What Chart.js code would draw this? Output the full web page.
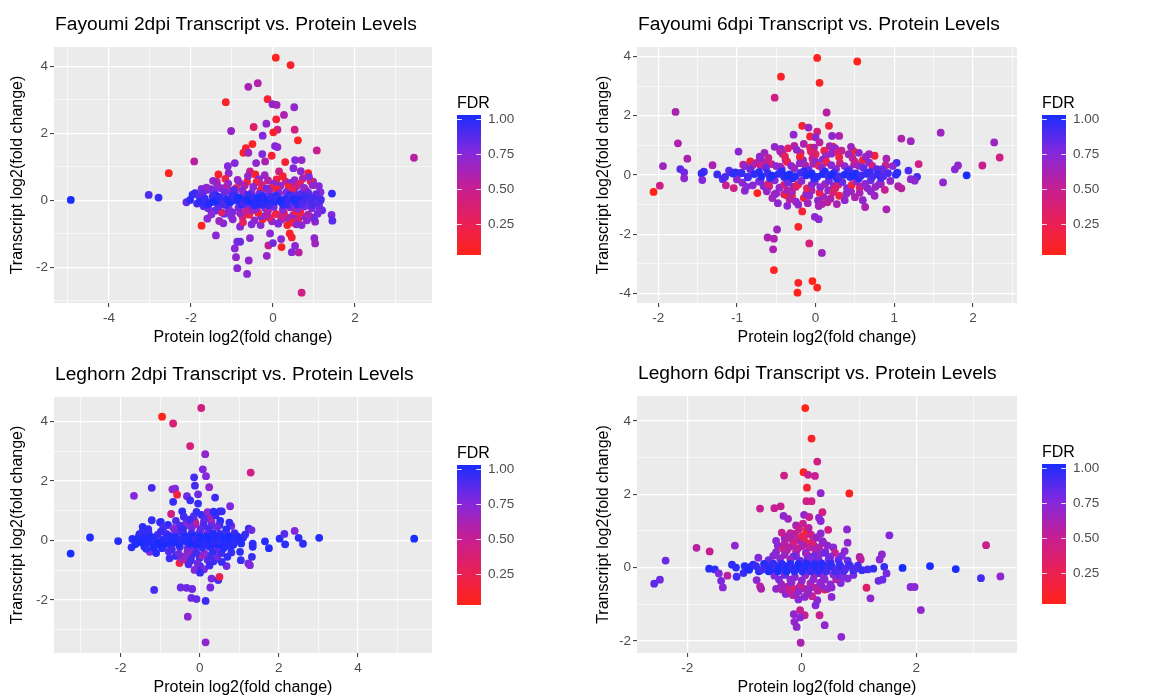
<!DOCTYPE html>
<html lang="en">
<head>
<meta charset="UTF-8">
<title>Transcript vs. Protein Levels</title>
<script src="https://cdn.jsdelivr.net/npm/chart.js"></script>
<style>
  html, body { margin: 0; padding: 0; background: #fff; }
  #wrap { position: relative; width: 1155px; height: 698px; overflow: hidden; }
  #wrap canvas { position: absolute; }
</style>
</head>
<body>
<div id="wrap">
  <canvas id="fay2" width="577" height="349" style="left:0;top:0;width:577px;height:349px"></canvas>
  <canvas id="fay6" width="577" height="349" style="left:578px;top:0;width:577px;height:349px"></canvas>
  <canvas id="leg2" width="577" height="349" style="left:0;top:349px;width:577px;height:349px"></canvas>
  <canvas id="leg6" width="577" height="349" style="left:578px;top:349px;width:577px;height:349px"></canvas>
</div>
<script>
// each point: [protein log2 fc, transcript log2 fc, FDR]
const fay2Points = [
  [-4.93,0.01,1.0],[-3.03,0.16,0.88],[-2.79,0.08,0.93],[-2.54,0.81,0.08],[-1.92,1.16,0.55],[-1.15,2.93,0.1],
  [-1.02,2.07,0.68],[-0.93,1.11,0.75],[-0.6,3.39,0.62],[-0.37,3.5,0.58],[0.07,4.26,0.08],[0.43,4.04,0.12],
  [-0.13,3.02,0.15],[-0.01,2.87,0.7],[0.09,2.85,0.65],[0.52,2.78,0.7],[0.27,2.55,0.6],[0.08,2.42,0.15],
  [-0.16,2.29,0.7],[-0.47,2.19,0.35],[0.11,2.11,0.45],[0.53,2.11,0.45],[0.01,2.03,0.12],[-0.25,1.93,0.75],
  [0.61,1.79,0.08],[0.05,1.62,0.75],[0.11,1.59,0.72],[-0.5,1.68,0.1],[-0.66,1.56,0.15],[-0.72,1.42,0.12],
  [-0.6,1.42,0.65],[-0.26,1.38,0.75],[-0.03,1.33,0.15],[-0.19,1.16,0.6],[-0.41,1.11,0.7],[1.07,1.49,0.5],
  [0.54,1.2,0.75],[0.7,1.2,0.7],[0.3,1.14,0.15],[3.44,1.27,0.55],[-1.1,1.02,0.75],[-1.08,0.81,0.7],
  [-1.33,0.77,0.12],[-0.56,0.86,0.5],[-0.43,0.77,0.12],[0.86,0.81,0.1],[0.15,0.86,0.45],[0.68,0.87,0.7],
  [0.5,0.96,0.75],[0.98,0.56,0.72],[-1.37,0.56,0.5],[-1.96,0.17,0.95],[-1.9,0.21,0.92],[-2.11,-0.06,0.82],
  [-2.02,0.01,0.95],[-1.74,0.34,0.75],[-1.62,0.31,0.72],[1.44,0.2,0.95],[1.16,0.24,0.75],[1.15,-0.02,0.95],
  [1.43,-0.44,0.75],[1.45,-0.61,0.85],[-1.74,-0.76,0.08],[-1.39,-1.05,0.72],[-0.87,-1.24,0.78],[-0.8,-1.24,0.8],
  [-0.93,-1.44,0.72],[-0.9,-1.7,0.7],[-0.87,-2.03,0.72],[-0.63,-2.2,0.72],[-0.59,-1.8,0.7],[-0.56,-1.13,0.72],
  [-0.15,-1.66,0.68],[-0.11,-1.35,0.5],[0.2,-1.16,0.72],[0.21,-1.4,0.1],[0.41,-0.99,0.12],[0.46,-1.11,0.15],
  [0.54,-1.36,0.72],[0.46,-1.55,0.75],[0.63,-1.56,0.55],[0.7,-2.76,0.45],[1.01,-1.13,0.7],[1.03,-1.29,0.65],
  [-0.07,-0.99,0.72],[0,-1.28,0.78],[-0.3,-0.74,0.72],[-0.8,-0.79,0.75],[-1.21,-0.69,0.75],[-1.6,-0.55,0.72],
  [0.35,-0.74,0.12],[0.5,-0.67,0.1],[0.7,-0.74,0.72],[0.9,-0.49,0.5],
  [-1.46,0.58,0.7],[-1.31,-0.62,0.65],[-1.16,0.64,0.2],[-0.98,-0.57,0.72],[-0.86,0.61,0.68],[-0.73,-0.66,0.3],
  [-0.63,0.55,0.1],[-0.45,-0.6,0.68],[-0.34,0.63,0.72],[-0.25,-0.56,0.12],[-0.12,0.59,0.55],[-0.02,-0.63,0.7],
  [0.09,0.62,0.2],[0.2,-0.58,0.66],[0.31,0.56,0.5],[0.41,-0.64,0.1],[0.53,0.6,0.7],[0.62,-0.55,0.35],
  [0.73,0.65,0.62],[0.83,-0.6,0.7],[0.92,0.57,0.15],[1.03,-0.64,0.7],
  [-1.85,-0.1,0.9],[-1.8,0.12,0.85],[-1.69,-0.18,0.88],[-1.52,0.33,0.8],[-1.41,-0.31,0.82],[-1.27,0.36,0.75],
  [-1.19,-0.4,0.8],[-1.09,0.5,0.72],[-0.99,-0.36,0.78],[-0.82,0.52,0.7],[-0.74,-0.5,0.4],[-0.61,0.72,0.68],
  [-0.52,-0.72,0.75],[-0.4,0.54,0.2],[-0.29,-0.48,0.72],[-0.2,0.75,0.65],[-0.08,-0.52,0.35],[0.02,0.5,0.7],
  [0.13,-0.7,0.75],[0.24,0.72,0.15],[0.34,-0.52,0.6],[0.44,0.52,0.72],[0.57,-0.72,0.7],[0.66,0.5,0.3],
  [0.79,-0.5,0.72],[0.88,0.7,0.75],[1.0,-0.52,0.8],[1.12,0.42,0.75],[1.2,-0.3,0.82],
  [-1.62,0.38,0.7],[-1.5,-0.42,0.72],[-1.36,0.45,0.66],[-1.25,-0.36,0.35],[-1.13,0.41,0.6],[-1.02,-0.47,0.74],
  [-0.9,0.36,0.28],[-0.8,-0.39,0.68],[-0.69,0.44,0.55],[-0.58,-0.43,0.2],[-0.48,0.4,0.72],[-0.36,-0.37,0.15],
  [-0.27,0.46,0.4],[-0.16,-0.44,0.62],[-0.04,0.37,0.25],[0.07,-0.41,0.18],[0.18,0.43,0.7],[0.27,-0.38,0.3],
  [0.38,0.39,0.12],[0.49,-0.45,0.65],[0.58,0.42,0.45],[0.67,-0.36,0.22],[0.76,0.37,0.75],[0.86,-0.43,0.6],
  [0.97,0.45,0.7],[1.09,-0.4,0.78],
  [-0.7,0.2,0.35],[-0.3,0.3,0.25],[0.1,0.32,0.15],[0.55,-0.33,0.2],[-0.5,-0.3,0.6],[0.8,0.3,0.6],
  [-1.05,0.27,0.7],[0.2,-0.47,0.45],[-0.15,0.35,0.8],[0.65,-0.15,0.75],
  [-1.71,0.21,0.82],[-1.58,-0.24,0.8],[-1.44,0.27,0.78],[-1.33,-0.19,0.84],[-1.18,0.23,0.79],[-1.07,-0.27,0.76],
  [-0.93,0.18,0.83],[-0.84,-0.22,0.77],[-0.75,0.29,0.72],[-0.62,-0.2,0.8],[-0.52,0.22,0.74],[-0.41,-0.26,0.7],
  [-0.33,0.19,0.81],[-0.19,-0.23,0.75],[-0.09,0.26,0.68],[0.02,-0.2,0.79],[0.15,0.21,0.73],[0.24,-0.28,0.7],
  [0.33,0.24,0.77],[0.42,-0.21,0.74],[0.51,0.27,0.8],[0.6,-0.25,0.72],[0.69,0.2,0.82],[0.77,-0.19,0.78],
  [0.86,0.23,0.81],[0.95,-0.24,0.76],[1.05,0.18,0.83],[1.13,-0.2,0.79],
  [-0.95,0.31,0.85],[-0.58,0.12,0.95],[-0.27,-0.14,0.92],[0.07,0.14,0.88],[0.36,-0.13,0.9],[0.58,0.15,0.86],
  [-0.45,-0.15,0.93],[-1.4,0.15,0.93],[0.88,0.12,0.85],[-0.12,-0.32,0.6],[0.47,0.33,0.3],[-0.66,-0.32,0.5],
  [-1.6,-0.13,0.95],[-1.34,0.11,0.97],[-1.16,-0.14,0.93],[-0.98,0.14,0.95],[-0.76,-0.13,0.98],[-0.6,0.16,0.92],
  [-0.42,-0.12,0.97],[-0.24,0.13,0.95],[-0.1,-0.15,0.9],[0.08,0.12,0.96],[0.25,-0.14,0.93],[0.42,0.15,0.95],
  [0.6,-0.13,0.92],[0.77,0.12,0.9],[0.95,-0.14,0.88],
  [-1.78,-0.04,0.95],[-1.66,0.05,0.92],[-1.55,-0.08,0.97],[-1.47,0.12,0.9],[-1.38,-0.02,0.98],[-1.29,0.07,0.93],
  [-1.21,-0.11,0.88],[-1.12,0.03,0.96],[-1.04,-0.06,0.99],[-0.97,0.1,0.91],[-0.88,-0.01,0.97],[-0.79,0.06,0.94],
  [-0.71,-0.09,0.9],[-0.64,0.02,0.98],[-0.55,-0.03,1.0],[-0.47,0.08,0.93],[-0.38,-0.05,0.96],[-0.31,0.04,0.89],
  [-0.22,-0.1,0.95],[-0.14,0.01,0.99],[-0.05,0.09,0.92],[0.04,-0.04,0.97],[0.12,0.05,0.9],[0.21,-0.07,0.94],
  [0.29,0.03,0.98],[0.37,-0.02,0.91],[0.46,0.11,0.87],[0.55,-0.06,0.93],[0.63,0.02,0.96],[0.72,-0.1,0.88],
  [0.81,0.06,0.92],[0.9,-0.03,0.86],[0.99,0.04,0.9],[1.08,-0.08,0.85],[1.17,0.02,0.88],
  [-0.85,0.08,1.0],[-0.35,0.06,0.99],[0.17,-0.02,1.0],[0.5,0.03,0.98],[-1.45,-0.05,1.0]
];
const fay6Points = [
  [-2.06,-0.57,0.05],[-1.98,-0.36,0.45],[-1.94,0.3,0.65],[-1.78,2.13,0.6],[-1.75,1.07,0.6],[-1.72,0.2,0.85],
  [-1.67,0.09,0.8],[-1.67,-0.11,0.7],[-1.63,0.55,0.6],[-1.45,0.05,0.95],[-1.42,0.11,0.92],[-1.44,-0.17,0.75],
  [-1.31,0.33,0.6],[-1.18,-0.14,0.85],[-1.14,-0.35,0.5],[-1.08,0.09,0.9],[-1.04,-0.44,0.45],[-1.02,0.09,0.92],
  [-0.98,0.79,0.72],[-0.94,0.06,0.95],[-0.93,-0.26,0.72],[-0.9,-0.53,0.7],[-0.86,-0.06,0.93],[-0.83,0.46,0.1],
  [-0.8,0.33,0.5],[-0.74,-0.61,0.08],[-0.71,0.62,0.7],[-0.63,0.43,0.55],[-0.61,-2.11,0.6],[-0.53,-2.15,0.6],
  [-0.54,-2.51,0.6],[-0.53,-3.21,0.08],[-0.52,2.61,0.45],[-0.44,3.32,0.1],[-0.59,-0.38,0.5],[-0.52,-0.65,0.68],
  [-0.49,-1.84,0.65],[-0.4,-0.65,0.5],[-0.36,-1.04,0.72],[-0.37,-0.68,0.1],[-0.44,0.88,0.7],[-0.28,1.36,0.7],
  [-0.22,-1.75,0.1],[-0.23,-3.97,0.05],[-0.22,-3.64,0.1],[-0.17,1.66,0.15],[-0.17,-1.23,0.15],[-0.08,-2.31,0.4],
  [-0.09,1.6,0.68],[-0.07,1.3,0.15],[-0.07,0.92,0.2],[-0.04,-3.58,0.05],[0.02,-3.8,0.08],[0.02,3.95,0.08],
  [0.05,3.11,0.1],[-0.01,-1.41,0.7],[0.04,-1.49,0.7],[0.08,-2.63,0.65],[0.02,1.46,0.4],[0,1.27,0.72],
  [0.14,2.11,0.55],[0.17,1.66,0.15],[0.21,1.32,0.7],[0.3,1.32,0.6],[0.22,0.96,0.15],[0.53,3.83,0.03],
  [0.48,0.81,0.1],[0.56,-0.43,0.1],[0.63,-1.08,0.6],[0.75,0.65,0.15],[0.89,0.32,0.45],[0.83,-0.3,0.5],
  [0.9,-1.16,0.6],[0.66,-0.44,0.7],[1.03,0.41,0.9],[1.04,0.08,0.95],[1.02,0.01,0.95],[1.09,1.23,0.6],
  [1.21,1.14,0.65],[1.18,0.15,0.88],[1.21,-0.14,0.72],[1.29,-0.06,0.9],[1.26,-0.19,0.7],[1.31,0.37,0.45],
  [1.05,-0.38,0.6],[1.09,-0.45,0.55],[1.59,1.43,0.65],[1.62,-0.25,0.7],[1.77,0.19,0.72],[1.81,0.32,0.7],
  [1.92,-0.01,1.0],[2.12,0.32,0.5],[2.27,1.1,0.65],[2.34,0.59,0.45],
  [-0.65,0.75,0.65],[-0.52,0.95,0.7],[-0.38,0.5,0.6],[-0.27,0.98,0.55],[-0.16,0.5,0.68],[-0.02,0.92,0.6],
  [0.09,0.52,0.7],[0.18,0.97,0.62],[0.33,0.82,0.5],[0.45,0.95,0.65],[0.55,0.75,0.7],[0.68,0.7,0.6],
  [-0.62,-0.55,0.68],[-0.48,-0.95,0.7],[-0.36,-0.52,0.62],[-0.22,-1.0,0.68],[-0.05,-0.52,0.6],[0.04,-1.05,0.65],
  [0.16,-0.52,0.7],[0.27,-0.98,0.6],[0.45,-0.55,0.66],[0.6,-0.85,0.7],[0.75,-0.7,0.65],
  [-0.7,0.55,0.7],[-0.55,-0.78,0.65],[-0.42,0.72,0.6],[-0.3,-0.72,0.15],[-0.19,0.75,0.5],[-0.08,-0.7,0.7],
  [0.0,0.7,0.3],[0.1,-0.74,0.65],[0.2,0.72,0.7],[0.3,-0.7,0.2],[0.42,0.7,0.65],[0.5,-0.75,0.6],
  [0.6,0.5,0.15],[0.7,-0.55,0.7],[-0.25,-0.9,0.7],[0.15,-0.92,0.5],[-0.35,0.9,0.35],[0.25,0.9,0.7],
  [-0.15,1.05,0.6],[0.05,1.1,0.55],
  [-0.45,0.8,0.6],[-0.33,-0.82,0.55],[-0.24,0.85,0.7],[-0.15,-0.78,0.2],[-0.06,0.79,0.35],[0.03,-0.86,0.68],
  [0.11,0.82,0.25],[0.19,-0.8,0.6],[0.28,0.77,0.45],[0.37,-0.85,0.7],[-0.1,-0.95,0.65],[0.08,-0.98,0.6],
  [-0.6,0.58,0.5],[-0.5,-0.62,0.68],[-0.39,0.63,0.3],[-0.3,-0.57,0.6],[-0.2,0.61,0.15],[-0.12,-0.65,0.7],
  [-0.04,0.56,0.45],[0.05,-0.6,0.25],[0.13,0.64,0.65],[0.22,-0.58,0.4],[0.3,0.6,0.2],[0.39,-0.63,0.7],
  [0.47,0.57,0.55],[0.56,-0.6,0.62],[0.64,0.62,0.68],
  [-1.1,0.15,0.85],[-1.0,-0.15,0.7],[-0.92,0.35,0.5],[-0.88,-0.4,0.72],[0.95,-0.2,0.7],[0.98,0.3,0.72],
  [0.88,-0.5,0.5],[0.9,0.55,0.6],
  [-0.75,0.41,0.6],[-0.66,-0.38,0.72],[-0.56,0.37,0.45],[-0.46,-0.43,0.7],[-0.36,0.44,0.25],[-0.28,-0.39,0.6],
  [-0.2,0.4,0.68],[-0.11,-0.45,0.3],[-0.03,0.38,0.55],[0.06,-0.41,0.72],[0.14,0.43,0.2],[0.23,-0.37,0.66],
  [0.31,0.4,0.4],[0.4,-0.44,0.7],[0.49,0.36,0.62],[0.57,-0.39,0.5],[0.68,0.42,0.72],[0.76,-0.4,0.65],
  [-0.45,0.28,0.55],[-0.25,-0.4,0.45],[0.0,0.45,0.7],[0.25,-0.45,0.35],[0.5,0.45,0.5],[-0.7,-0.2,0.8],
  [0.85,0.2,0.8],
  [-0.9,0.3,0.7],[-0.8,-0.35,0.72],[-0.7,0.32,0.5],[-0.6,-0.3,0.35],[-0.5,0.3,0.72],[-0.4,-0.33,0.45],
  [-0.31,0.31,0.7],[-0.22,-0.31,0.25],[-0.13,0.32,0.6],[-0.05,-0.33,0.7],[0.04,0.31,0.3],[0.12,-0.31,0.65],
  [0.2,0.33,0.72],[0.29,-0.32,0.4],[0.37,0.3,0.7],[0.46,-0.33,0.2],[0.55,0.31,0.68],[0.63,-0.3,0.72],
  [0.72,0.31,0.45],[0.81,-0.31,0.7],
  [-0.83,0.19,0.8],[-0.72,-0.22,0.76],[-0.63,0.24,0.82],[-0.52,-0.18,0.74],[-0.43,0.2,0.7],[-0.35,-0.25,0.79],
  [-0.27,0.23,0.66],[-0.18,-0.2,0.72],[-0.09,0.18,0.8],[-0.01,-0.23,0.75],[0.08,0.25,0.68],[0.17,-0.19,0.78],
  [0.26,0.21,0.72],[0.34,-0.24,0.8],[0.43,0.19,0.76],[0.52,-0.21,0.7],[0.61,0.24,0.82],[0.7,-0.18,0.79],
  [0.78,0.2,0.84],
  [-1.25,0.02,0.92],[-1.15,-0.06,0.9],[-1.05,0.05,0.95],[-0.72,0.1,0.97],[-0.58,-0.1,0.95],[-0.43,0.11,0.98],
  [-0.29,-0.11,0.95],[-0.15,0.12,0.97],[-0.02,-0.12,0.93],[0.12,0.11,0.97],[0.27,-0.12,0.95],[0.41,0.12,0.93],
  [0.55,-0.11,0.96],[0.69,0.1,0.93],[0.83,-0.1,0.9],[0.92,0.06,0.88],
  [-0.78,0.03,0.95],[-0.69,-0.05,0.98],[-0.61,0.06,0.92],[-0.55,-0.02,0.99],[-0.47,0.04,0.96],[-0.4,-0.07,0.93],
  [-0.33,0.02,1.0],[-0.26,-0.04,0.97],[-0.19,0.07,0.9],[-0.12,-0.01,0.98],[-0.05,0.05,0.94],[0.02,-0.06,0.96],
  [0.09,0.03,0.99],[0.16,-0.03,0.92],[0.23,0.06,0.95],[0.3,-0.05,0.9],[0.37,0.01,0.97],[0.44,-0.07,0.93],
  [0.51,0.05,0.96],[0.58,-0.02,0.91],[0.65,0.04,0.94],[0.72,-0.06,0.88],[0.79,0.02,0.92],[0.86,-0.04,0.87],
  [-0.86,-0.08,0.9],[-0.95,0.07,0.93],[-0.36,-0.02,1.0],[0.2,0.0,1.0],[-0.05,0.01,1.0],[0.47,-0.01,0.99]
];
const leg2Points = [
  [-3.26,-0.44,1.0],[-2.77,0.1,0.97],[-2.06,-0.02,0.97],[-1.72,-0.23,0.95],[-1.66,1.5,0.75],[-1.53,0.15,0.97],
  [-1.44,0.46,0.95],[-1.34,-0.08,0.97],[-1.26,-0.38,0.75],[-1.21,1.77,0.9],[-1.21,0.68,0.93],[-1.15,-1.66,0.9],
  [-1.0,0.61,0.95],[-0.95,4.16,0.05],[-0.67,3.93,0.4],[-0.69,1.72,0.7],[-0.62,1.74,0.75],[-0.57,1.54,0.2],
  [-0.72,0.89,0.45],[-0.67,1.3,0.93],[-0.44,0.98,0.95],[-0.51,-0.76,0.2],[-0.35,-0.65,0.25],[-0.48,-1.58,0.8],
  [-0.33,-1.59,0.8],[-0.19,-1.63,0.8],[-0.21,-1.93,0.8],[-0.08,-1.97,0.82],[0.15,-2.03,0.92],[-0.3,-2.56,0.7],
  [0.15,-3.42,0.7],[-0.24,3.17,0.4],[0.04,4.45,0.45],[0.14,2.9,0.7],[0.08,2.39,0.75],[0.16,2.16,0.75],
  [-0.14,2.12,0.9],[-0.12,1.84,0.9],[0.24,1.79,0.7],[-0.32,1.49,0.8],[-0.24,1.35,0.92],[-0.04,1.55,0.8],
  [-0.04,1.24,0.93],[0.39,1.44,0.92],[1.29,2.28,0.45],[0.77,1.15,0.75],[0.51,0.98,0.95],[0.56,0.98,0.93],
  [0.8,0.49,0.78],[1.24,0.4,0.93],[1.31,0.35,0.8],[1.1,0.1,0.95],[1.02,-0.38,0.95],[1.04,-0.66,0.93],
  [1.23,-0.77,0.78],[1.27,-0.83,0.75],[1.32,-0.55,0.93],[1.34,-0.21,0.95],[1.34,-0.11,0.95],[1.65,-0.03,0.97],
  [1.75,-0.26,0.97],[2.02,0.06,0.97],[2.14,0.22,0.85],[2.16,-0.13,0.95],[2.4,0.32,0.75],[2.5,0.09,0.95],
  [2.61,-0.11,0.95],[3.02,0.09,0.97],[5.42,0.06,1.0],[0.01,-0.86,0.93],[0.11,-0.97,0.78],[-0.13,-0.99,0.75],
  [0.01,-1.08,0.93],[0.3,-1.28,0.78],[0.47,-1.33,0.9],[0.5,-1.22,0.25],[0.27,-1.58,0.78],[0.35,-0.7,0.93],
  [0.68,-0.86,0.78],[0.56,-0.72,0.93],
  [-0.98,0.62,0.95],[-0.76,-0.6,0.92],[-0.6,0.66,0.88],[-0.45,-0.63,0.55],[-0.34,0.58,0.8],[-0.22,-0.66,0.9],
  [-0.12,0.64,0.6],[0.0,-0.58,0.93],[0.1,0.6,0.78],[0.2,-0.65,0.86],[0.3,0.62,0.65],[0.41,-0.61,0.9],
  [0.52,0.66,0.95],[-0.4,0.8,0.9],[-0.15,0.82,0.85],[0.05,0.86,0.95],[0.22,0.79,0.6],[0.4,0.84,0.92],
  [-0.28,-0.8,0.88],[-0.05,-0.77,0.8],[0.25,-0.84,0.92],[0.2,0.95,0.7],[-0.08,0.96,0.93],[0.35,0.97,0.95],
  [-0.5,0.5,0.88],[-0.3,0.52,0.75],[-0.1,0.55,0.55],[0.1,0.48,0.9],[0.3,0.5,0.8],[0.5,0.52,0.93],
  [-0.6,-0.52,0.93],[-0.4,-0.55,0.7],[-0.2,-0.5,0.88],[0.05,-0.5,0.6],[0.25,-0.52,0.9],[0.45,-0.55,0.8],
  [0.7,-0.55,0.95],[-0.8,0.52,0.95],[0.75,0.6,0.93],[-0.25,0.7,0.92],[0.12,0.72,0.85],[-0.55,0.3,0.88],
  [0.4,-0.3,0.75],[-0.15,-0.3,0.6],
  [-1.3,0.38,0.93],[-1.1,-0.42,0.96],[-0.92,0.44,0.9],[-0.78,-0.37,0.85],[-0.66,0.41,0.75],[-0.53,-0.45,0.8],
  [-0.42,0.36,0.92],[-0.31,-0.39,0.7],[-0.2,0.43,0.78],[-0.09,-0.41,0.9],[0.02,0.38,0.83],[0.12,-0.44,0.74],
  [0.22,0.4,0.88],[0.33,-0.36,0.95],[0.44,0.45,0.8],[0.55,-0.42,0.9],[0.67,0.37,0.96],[0.8,-0.4,0.93],
  [-1.52,0.21,0.95],[-1.4,-0.2,0.97],[-1.29,0.24,0.93],[-1.17,-0.23,0.99],[-1.06,0.19,0.9],[-0.95,-0.26,0.96],
  [-0.84,0.22,0.88],[-0.72,-0.19,0.94],[-0.61,0.25,0.8],[-0.5,-0.22,0.9],[-0.4,0.2,0.85],[-0.3,-0.25,0.78],
  [-0.21,0.23,0.92],[-0.12,-0.18,0.82],[-0.03,0.21,0.88],[0.06,-0.24,0.95],[0.15,0.19,0.8],[0.24,-0.21,0.9],
  [0.33,0.24,0.96],[0.42,-0.19,0.86],[0.51,0.22,0.93],[0.6,-0.26,0.97],[0.69,0.2,0.9],[0.78,-0.22,0.95],
  [0.88,0.25,0.92],
  [-1.7,0.05,0.97],[-1.62,-0.12,0.99],[-1.45,0.28,0.93],[-1.35,-0.28,0.95],[-1.2,0.1,1.0],[-1.08,-0.15,0.98],
  [-0.98,0.3,0.93],[-0.88,-0.12,1.0],[-0.78,0.16,0.97],[-0.7,-0.3,0.9],[-0.6,0.1,1.0],[-0.52,-0.13,0.98],
  [-0.44,0.28,0.92],[-0.35,0.12,1.0],[-0.26,-0.12,0.97],[-0.17,0.13,1.0],[-0.08,-0.14,0.98],[0.01,0.12,1.0],
  [0.1,-0.13,0.97],[0.19,0.13,0.99],[0.28,-0.14,1.0],[0.38,0.14,0.97],[0.47,-0.12,1.0],[0.57,0.12,0.98],
  [0.66,-0.14,0.96],[0.75,0.12,1.0],[0.85,-0.14,0.97],[0.95,0.14,0.95],[1.05,-0.1,0.97],[1.15,0.2,0.93],
  [-1.58,0.04,0.98],[-1.47,-0.06,1.0],[-1.36,0.08,0.97],[-1.25,-0.03,0.99],[-1.14,0.05,0.96],[-1.03,-0.08,1.0],
  [-0.93,0.02,0.98],[-0.83,0.09,0.95],[-0.74,-0.04,0.99],[-0.65,0.06,0.97],[-0.56,-0.07,1.0],[-0.47,0.03,0.94],
  [-0.38,-0.02,0.98],[-0.29,0.07,0.96],[-0.2,-0.05,1.0],[-0.11,0.04,0.93],[-0.02,-0.03,0.97],[0.07,0.06,0.99],
  [0.16,-0.08,0.95],[0.25,0.02,1.0],[0.34,-0.04,0.96],[0.43,0.07,0.98],[0.52,-0.02,0.94],[0.61,0.04,0.99],
  [0.7,-0.06,0.97],[0.79,0.03,1.0],[0.88,-0.05,0.95],[0.98,0.06,0.98]
];
const leg6Points = [
  [-2.58,-0.44,0.85],[-2.48,-0.33,0.8],[-2.38,0.19,0.8],[-1.84,0.54,0.55],[-1.61,0.44,0.5],[-1.62,-0.03,0.97],
  [-1.52,-0.05,0.95],[-1.45,-0.16,0.75],[-1.41,-0.36,0.78],[-1.38,-0.54,0.72],[-1.3,-0.22,0.55],[-1.22,0.08,0.95],
  [-1.17,0.6,0.7],[-1.15,0,0.95],[-1.14,-0.25,0.9],[-1.02,-0.15,0.93],[-0.9,0.02,0.95],[-0.79,-0.34,0.72],
  [-0.76,0.27,0.75],[-0.73,1.61,0.5],[-0.73,-0.51,0.55],[-0.71,-0.58,0.6],[-0.48,1.62,0.5],[-0.37,1.67,0.5],
  [-0.31,2.51,0.45],[-0.32,1.41,0.7],[-0.24,1.33,0.65],[-0.2,0.94,0.5],[-0.45,0.73,0.72],[-0.28,-0.69,0.72],
  [-0.16,-0.75,0.5],[-0.06,-0.87,0.75],[-0.03,-1.16,0.5],[-0.14,-1.27,0.7],[-0.13,-1.48,0.68],[-0.09,-1.62,0.7],
  [-0.02,-2.05,0.6],[0.05,-1.3,0.5],[-0.03,-1.36,0.72],[0.06,4.35,0.03],[0.17,3.52,0.1],[0.03,2.6,0.05],
  [0.11,2.53,0.5],[0.23,2.5,0.5],[0.27,2.89,0.45],[0.09,2.18,0.15],[0.08,1.81,0.45],[0.17,1.81,0.45],
  [0.33,2.03,0.7],[0.04,1.44,0.7],[0.13,1.38,0.5],[0.3,1.36,0.72],[0.36,1.51,0.45],[0.33,1.27,0.72],
  [0.33,0.93,0.72],[0.46,1.03,0.45],[0.83,2.02,0.1],[0.79,1.04,0.72],[0.8,0.68,0.7],[0.18,0.67,0.05],
  [0.38,0.67,0.45],[0.4,-0.6,0.15],[0.27,-0.89,0.72],[0.24,-1.03,0.75],[0.31,-1.3,0.5],[0.4,-1.57,0.7],
  [0.52,-0.8,0.72],[0.52,-0.54,0.72],[0.69,-1.89,0.7],[1.01,0.29,0.55],[1.03,0.22,0.55],[1.13,-0.55,0.35],
  [1.2,-0.84,0.7],[1.4,0.36,0.7],[1.36,0.22,0.72],[1.53,0.88,0.75],[1.44,0.02,0.93],[1.48,-0.16,0.78],
  [1.41,-0.33,0.8],[1.34,-0.36,0.8],[1.76,-0.01,1.0],[1.9,-0.53,0.75],[1.97,-0.53,0.72],[2.08,-1.16,0.7],
  [2.24,0.04,1.0],[2.69,-0.04,1.0],[3.13,-0.29,0.9],[3.22,0.61,0.5],[3.47,-0.24,0.7],[1.05,-0.07,0.93],
  [1.15,-0.05,0.9],[1.25,-0.03,0.93],
  [-0.42,0.6,0.72],[-0.33,0.52,0.45],[-0.22,0.56,0.5],[-0.15,0.6,0.65],[-0.07,0.52,0.45],[0.0,0.58,0.55],
  [0.06,0.7,0.2],[0.13,0.55,0.5],[0.22,0.58,0.72],[0.3,0.55,0.6],[0.45,0.6,0.7],[0.55,0.55,0.72],
  [-0.18,0.78,0.6],[-0.05,0.75,0.65],[0.05,0.88,0.55],[0.2,0.8,0.55],[-0.3,0.8,0.7],[0.1,0.95,0.45],
  [-0.1,1.15,0.6],[0.02,1.2,0.5],
  [-0.45,-0.58,0.7],[-0.35,-0.6,0.6],[-0.25,-0.52,0.6],[-0.15,-0.58,0.2],[-0.05,-0.55,0.72],[0.05,-0.58,0.6],
  [0.15,-0.55,0.7],[0.25,-0.55,0.55],[0.35,-0.52,0.72],[0.45,-0.58,0.68],[-0.12,-0.75,0.6],[0.05,-0.8,0.7],
  [0.18,-0.78,0.5],[-0.28,-0.72,0.72],
  [-0.3,0.65,0.55],[-0.22,-0.62,0.5],[-0.14,0.7,0.45],[-0.06,-0.66,0.7],[0.02,0.62,0.6],[0.11,-0.7,0.68],
  [0.19,0.68,0.4],[0.28,-0.63,0.55],[0.36,0.72,0.7],[-0.25,0.85,0.6],[-0.12,0.92,0.55],[0.0,0.85,0.25],
  [0.08,1.02,0.1],[0.16,0.9,0.45],[0.26,0.82,0.68],[-0.35,0.95,0.5],[0.12,1.08,0.55],[-0.05,1.05,0.5],
  [-0.45,0.42,0.7],[-0.36,-0.45,0.65],[-0.26,0.47,0.55],[-0.18,-0.4,0.7],[-0.1,0.44,0.55],[-0.02,-0.48,0.5],
  [0.07,0.4,0.72],[0.15,-0.43,0.6],[0.24,0.46,0.6],[0.32,-0.41,0.7],[0.41,0.43,0.65],[0.5,-0.46,0.72],
  [0.58,0.4,0.5],[0.68,-0.42,0.75],[0.75,0.45,0.7],
  [-0.5,0.32,0.72],[-0.4,-0.32,0.75],[-0.3,0.35,0.65],[-0.2,-0.33,0.72],[-0.1,0.32,0.7],[0.0,-0.35,0.7],
  [0.1,0.33,0.6],[0.2,-0.32,0.72],[0.3,0.35,0.7],[0.4,-0.33,0.7],[0.5,0.3,0.72],[0.6,-0.32,0.6],
  [0.7,0.32,0.75],[0.8,-0.3,0.72],
  [0.1,0.2,0.85],[0.3,-0.15,0.88],[0.5,0.15,0.85],[-0.3,-0.2,0.85],[0.65,-0.2,0.85],[0.2,0.3,0.8],
  [-0.15,0.3,0.82],[0.4,0.4,0.8],
  [-0.58,0.2,0.8],[-0.48,-0.22,0.75],[-0.38,0.25,0.7],[-0.29,-0.18,0.78],[-0.2,0.22,0.66],[-0.12,-0.26,0.72],
  [-0.03,0.19,0.8],[0.06,-0.21,0.7],[0.14,0.26,0.75],[0.22,-0.2,0.68],[0.3,0.18,0.78],[0.38,-0.25,0.72],
  [0.47,0.23,0.8],[0.55,-0.19,0.75],[0.64,0.21,0.82],[0.72,-0.24,0.76],[0.8,0.19,0.8],[0.9,-0.2,0.78],
  [-1.0,0.04,0.97],[-0.92,-0.06,0.99],[-0.85,0.08,0.95],[-0.75,-0.1,0.97],[-0.66,0.1,0.98],[-0.58,-0.1,1.0],
  [-0.5,0.11,0.95],[-0.42,-0.1,0.99],[-0.35,0.1,0.97],[-0.27,-0.11,0.96],[-0.2,0.1,0.98],[-0.13,-0.1,0.95],
  [-0.06,0.1,0.97],[0.01,-0.11,0.93],[0.08,0.11,0.95],[0.15,-0.1,0.94],[0.22,0.1,0.96],[0.28,-0.1,0.92],
  [0.35,0.11,0.95],[0.43,-0.1,0.9],[0.5,0.1,0.93],[0.58,-0.1,0.9],[0.66,0.08,0.92],[0.74,-0.08,0.9],
  [0.82,0.08,0.88],[0.9,-0.07,0.92],[0.98,0.05,0.9],
  [-0.62,0.03,0.95],[-0.54,-0.04,0.98],[-0.46,0.05,0.93],[-0.39,-0.02,1.0],[-0.32,0.06,0.96],[-0.25,-0.05,0.99],
  [-0.18,0.02,0.94],[-0.11,-0.06,0.97],[-0.04,0.04,1.0],[0.03,-0.03,0.95],[0.1,0.06,0.98],[0.17,-0.04,0.92],
  [0.24,0.03,0.97],[0.31,-0.06,0.93],[0.38,0.05,0.96],[0.45,-0.02,0.9],[0.52,0.04,0.94],[0.6,-0.05,0.88],
  [0.68,0.02,0.92],[0.76,-0.03,0.86],[0.84,0.05,0.9],[0.93,-0.04,0.88],[-0.7,-0.06,0.9],[-0.8,0.04,0.93]
];

// axis limits and breaks
const fay2XRange = [-5.34, 3.88], fay2YRange = [-3.07, 4.58];
const fay2XMajor = [-4, -2, 0, 2], fay2XMinor = [-5, -3, -1, 1, 3];
const fay2YMajor = [-2, 0, 2, 4], fay2YMinor = [-3, -1, 1, 3];

const fay6XRange = [-2.27, 2.56], fay6YRange = [-4.32, 4.32];
const fay6XMajor = [-2, -1, 0, 1, 2], fay6XMinor = [-1.5, -0.5, 0.5, 1.5, 2.5];
const fay6YMajor = [-4, -2, 0, 2, 4], fay6YMinor = [-3, -1, 1, 3];

const leg2XRange = [-3.68, 5.87], leg2YRange = [-3.78, 4.82];
const leg2XMajor = [-2, 0, 2, 4], leg2XMinor = [-3, -1, 1, 3, 5];
const leg2YMajor = [-2, 0, 2, 4], leg2YMinor = [-3, -1, 1, 3];

const leg6XRange = [-2.88, 3.76], leg6YRange = [-2.33, 4.68];
const leg6XMajor = [-2, 0, 2], leg6XMinor = [-1, 1, 3];
const leg6YMajor = [-2, 0, 2, 4], leg6YMinor = [-1, 1, 3];

const fdrLimits = [0.05, 1.0];
const fdrBreaks = [0.25, 0.5, 0.75, 1.0];
const fdrLabels = ['0.25', '0.50', '0.75', '1.00'];

const FONT = '"Liberation Sans", Arial, Helvetica, sans-serif';
Chart.defaults.font.family = FONT;

// red (low FDR) -> blue (high FDR), stops taken off the reference colour bar
const colourStops = [
  [0.00, 255, 35, 25],
  [0.21, 235, 32, 80],
  [0.47, 200, 30, 145],
  [0.74, 130, 40, 222],
  [1.00, 25, 45, 255]
];
function fdrColour(v) {
  const t = Math.min(1, Math.max(0, (v - fdrLimits[0]) / (fdrLimits[1] - fdrLimits[0])));
  let i = 0;
  while (i < colourStops.length - 2 && t > colourStops[i + 1][0]) i++;
  const a = colourStops[i], b = colourStops[i + 1];
  const f = (t - a[0]) / (b[0] - a[0]);
  const c = k => Math.round(a[k] + f * (b[k] - a[k]));
  return 'rgb(' + c(1) + ',' + c(2) + ',' + c(3) + ')';
}

// grey panel behind the grid
const panelBg = {
  id: 'panelBg',
  beforeDraw(chart) {
    const a = chart.chartArea, ctx = chart.ctx;
    ctx.save();
    ctx.fillStyle = '#EBEBEB';
    ctx.fillRect(a.left, a.top, a.right - a.left, a.bottom - a.top);
    ctx.restore();
  }
};

// left aligned plot title, like ggplot
const panelTitle = {
  id: 'panelTitle',
  afterDraw(chart, args, opts) {
    const ctx = chart.ctx;
    ctx.save();
    ctx.font = '19.2px ' + FONT;
    ctx.fillStyle = '#000';
    ctx.textBaseline = 'alphabetic';
    ctx.textAlign = 'left';
    ctx.fillText(opts.text, chart.chartArea.left + 1, chart.chartArea.top - 17);
    ctx.restore();
  }
};

// FDR colour bar
const colourBar = {
  id: 'colourBar',
  afterDraw(chart) {
    const ctx = chart.ctx, a = chart.chartArea;
    const x0 = a.right + 25, y0 = a.top + 68, w = 24, h = 140;
    const half = h / 40;
    ctx.save();
    const grad = ctx.createLinearGradient(0, y0, 0, y0 + h);
    for (let i = 0; i <= 20; i++) {
      const v = fdrLimits[1] - (fdrLimits[1] - fdrLimits[0]) * i / 20;
      grad.addColorStop(i / 20, fdrColour(v));
    }
    ctx.fillStyle = grad;
    ctx.fillRect(x0, y0, w, h);

    ctx.font = '16px ' + FONT;
    ctx.fillStyle = '#000';
    ctx.textBaseline = 'alphabetic';
    ctx.fillText('FDR', x0, y0 - 7);

    ctx.font = '13.5px ' + FONT;
    ctx.fillStyle = '#4D4D4D';
    ctx.textBaseline = 'middle';
    ctx.strokeStyle = 'rgba(255,255,255,0.85)';
    ctx.lineWidth = 1;
    fdrBreaks.forEach((b, i) => {
      const y = Math.round(y0 + h - half - (b - fdrLimits[0]) / (fdrLimits[1] - fdrLimits[0]) * (h - 2 * half)) + 0.5;
      ctx.beginPath();
      ctx.moveTo(x0, y); ctx.lineTo(x0 + w / 5, y);
      ctx.moveTo(x0 + w - w / 5, y); ctx.lineTo(x0 + w, y);
      ctx.stroke();
      ctx.fillText(fdrLabels[i], x0 + w + 7, y);
    });
    ctx.restore();
  }
};

function axis(range, major, minor, titleText, horizontal, size, titlePad) {
  const all = major.concat(minor).sort((p, q) => p - q);
  const isMajor = v => major.indexOf(v) !== -1;
  return {
    type: 'linear',
    position: horizontal ? 'bottom' : 'left',
    min: range[0],
    max: range[1],
    afterBuildTicks: s => { s.ticks = all.map(v => ({ value: v })); },
    afterFit: s => { if (horizontal) s.height = size; else s.width = size; },
    border: { display: false },
    grid: {
      color: '#FFFFFF',
      lineWidth: c => (c.tick && isMajor(c.tick.value)) ? 1.2 : 0.6,
      drawTicks: true,
      tickLength: 4,
      tickWidth: 1,
      tickColor: c => (c.tick && isMajor(c.tick.value)) ? '#333333' : 'rgba(0,0,0,0)'
    },
    ticks: {
      autoSkip: false,
      maxRotation: 0,
      padding: horizontal ? 3 : 2,
      color: '#4D4D4D',
      font: { size: 13.5, family: FONT },
      callback: v => isMajor(v) ? String(v) : ''
    },
    title: {
      display: true,
      text: titleText,
      color: '#000',
      font: { size: 16, family: FONT },
      padding: horizontal ? { top: 0, bottom: titlePad } : { top: titlePad, bottom: 0 }
    }
  };
}

function makePanel(id, title, points, xRange, yRange, xMajor, xMinor, yMajor, yMinor, box) {
  new Chart(document.getElementById(id), {
    type: 'scatter',
    data: {
      datasets: [{
        data: points.map(p => ({ x: p[0], y: p[1] })),
        pointBackgroundColor: points.map(p => fdrColour(p[2])),
        pointBorderColor: points.map(p => fdrColour(p[2])),
        pointBorderWidth: 0,
        pointRadius: 3.9,
        pointHoverRadius: 3.9
      }]
    },
    options: {
      responsive: false,
      animation: false,
      events: [],
      layout: { padding: { top: box.top, right: box.right, bottom: 0, left: 0 } },
      plugins: {
        legend: { display: false },
        tooltip: { enabled: false },
        panelTitle: { text: title }
      },
      scales: {
        x: axis(xRange, xMajor, xMinor, 'Protein log2(fold change)', true, box.xh, box.xPad),
        y: axis(yRange, yMajor, yMinor, 'Transcript log2(fold change)', false, box.yw, box.yPad)
      }
    },
    plugins: [panelBg, panelTitle, colourBar]
  });
}

makePanel('fay2', 'Fayoumi 2dpi Transcript vs. Protein Levels', fay2Points,
  fay2XRange, fay2YRange, fay2XMajor, fay2XMinor, fay2YMajor, fay2YMinor,
  { top: 47, right: 145, xh: 46, xPad: 2, yw: 54, yPad: 8.4 });
makePanel('fay6', 'Fayoumi 6dpi Transcript vs. Protein Levels', fay6Points,
  fay6XRange, fay6YRange, fay6XMajor, fay6XMinor, fay6YMajor, fay6YMinor,
  { top: 47, right: 138, xh: 46, xPad: 2, yw: 59, yPad: 16 });
makePanel('leg2', 'Leghorn 2dpi Transcript vs. Protein Levels', leg2Points,
  leg2XRange, leg2YRange, leg2XMajor, leg2XMinor, leg2YMajor, leg2YMinor,
  { top: 48, right: 145, xh: 45, xPad: 1, yw: 54, yPad: 8.4 });
makePanel('leg6', 'Leghorn 6dpi Transcript vs. Protein Levels', leg6Points,
  leg6XRange, leg6YRange, leg6XMajor, leg6XMinor, leg6YMajor, leg6YMinor,
  { top: 47, right: 138, xh: 45, xPad: 1, yw: 59, yPad: 16 });
</script>
</body>
</html>
